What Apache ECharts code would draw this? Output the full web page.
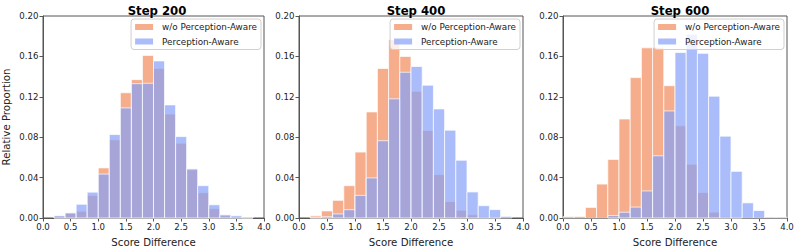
<!DOCTYPE html>
<html><head><meta charset="utf-8">
<script src="https://cdn.jsdelivr.net/npm/echarts@6/dist/echarts.min.js"></script>
<style>html,body{margin:0;padding:0;background:#fff}#c{width:797px;height:252px}</style>
</head><body><div id="c"></div>
<script>
// Histogram bin edges (width 0.2) and ticks
const binEdges = [0.0,0.2,0.4,0.6,0.8,1.0,1.2,1.4,1.6,1.8,2.0,2.2,2.4,2.6,2.8,3.0,3.2,3.4,3.6,3.8,4.0];
const xTicks = [0.0,0.5,1.0,1.5,2.0,2.5,3.0,3.5,4.0];
const yTicks = [0.00,0.04,0.08,0.12,0.16,0.20];
const titles = ['Step 200','Step 400','Step 600'];
const seriesNames = ['w/o Perception-Aware','Perception-Aware'];

// Relative proportion per bin
const step200_wo = [0,0.002,0.005,0.0067,0.0224,0.0496,0.0774,0.124,0.137,0.161,0.148,0.103,0.074,0.0477,0.025,0.0093,0.0022,0.001,0.0003,0];
const step200_pa = [0,0.0022,0.005,0.0136,0.0256,0.0435,0.0826,0.109,0.133,0.1334,0.1555,0.112,0.0806,0.0486,0.032,0.0131,0.0032,0.0022,0.001,0];
const step400_wo = [0,0.0022,0.007,0.0175,0.032,0.0653,0.105,0.148,0.1766,0.16,0.1254,0.0867,0.0429,0.0163,0.0077,0.0032,0.0013,0.0007,0,0];
const step400_pa = [0,0.0008,0.0013,0.004,0.0082,0.0224,0.0397,0.0765,0.118,0.1443,0.150,0.1315,0.108,0.087,0.0572,0.0258,0.0122,0.0083,0.0016,0];
const step600_wo = [0.0013,0.0014,0.0105,0.0336,0.058,0.098,0.139,0.1685,0.1688,0.131,0.0913,0.0532,0.0252,0.0058,0.0012,0.0006,0,0,0,0];
const step600_pa = [0,0,0,0,0.0024,0.0057,0.0108,0.0268,0.0616,0.106,0.1638,0.182,0.163,0.1206,0.081,0.0462,0.015,0.0074,0.0008,0.0008];

const panels = [[step200_wo, step200_pa],[step400_wo, step400_pa],[step600_wo, step600_pa]];
const colors = ['rgba(241,138,91,0.7)','rgba(134,161,248,0.7)'];
const gridLefts = [40, 299, 563];
const gridW = 224, gridTop = 16, gridH = 208;
const FONT = 'DejaVu Sans';

function binData(vals){
  const out = [];
  for (let i = 0; i < vals.length; i++) if (vals[i] > 0) out.push([binEdges[i], binEdges[i+1], vals[i]]);
  return out;
}
function makeRender(color){
  return function(params, api){
    const p0 = api.coord([api.value(0), api.value(2)]);
    const p1 = api.coord([api.value(1), 0]);
    return {type:'rect', shape:{x:p0[0], y:p0[1], width:p1[0]-p0[0], height:p1[1]-p0[1]},
      style:{fill:color, stroke:'rgba(255,255,255,0.7)', lineWidth:1}};
  };
}

const grid = [], xAxis = [], yAxis = [], series = [], title = [], legend = [];
panels.forEach((pair, k) => {
  grid.push({left: gridLefts[k], top: gridTop, width: gridW, height: gridH, show: true, borderColor: '#555', borderWidth: 1, backgroundColor: 'transparent'});
  xAxis.push({type:'value', gridIndex:k, min: xTicks[0], max: xTicks[xTicks.length-1], interval: 0.5,
    name:'Score Difference', nameLocation:'middle', nameGap: 19,
    nameTextStyle:{fontFamily:FONT, fontSize:10.2, color:'#222'},
    axisLine:{show:true, lineStyle:{color:'#555', width:1}},
    axisTick:{show:true, length:3.5, lineStyle:{color:'#555'}},
    axisLabel:{fontFamily:FONT, fontSize:8.6, color:'#222', margin:4, formatter:v=>v.toFixed(1)},
    splitLine:{show:false}});
  yAxis.push({type:'value', gridIndex:k, min: yTicks[0], max: yTicks[yTicks.length-1], interval: 0.04,
    name: k===0 ? 'Relative Proportion' : '', nameLocation:'middle', nameGap: 32,
    nameTextStyle:{fontFamily:FONT, fontSize:10.2, color:'#222'},
    axisLine:{show:true, lineStyle:{color:'#555', width:1}},
    axisTick:{show:true, length:3.5, lineStyle:{color:'#555'}},
    axisLabel:{fontFamily:FONT, fontSize:8.6, color:'#222', margin:4.5, formatter:v=>v.toFixed(2)},
    splitLine:{show:false}});
  title.push({text: titles[k], left: gridLefts[k] + gridW/2, top: 0, textAlign:'center',
    textStyle:{fontFamily:FONT, fontSize:11.7, fontWeight:'bold', color:'#000'}});
  legend.push({data: seriesNames.map((n,i)=>({name:n, itemStyle:{color:colors[i]}})),
    orient:'vertical', right: 797 - (gridLefts[k] + gridW) + 3, top: 19,
    icon:'rect', itemWidth:18, itemHeight:6, itemGap:3.5,
    padding:[2.5,4,2.5,4], borderColor:'#d0d0d0', borderWidth:1, borderRadius:3,
    backgroundColor:'rgba(255,255,255,0.8)', selectedMode:false,
    textStyle:{fontFamily:FONT, fontSize:8.8, color:'#222', lineHeight:11, padding:[0,0,0,4]}});
  pair.forEach((vals, i) => {
    series.push({type:'custom', name: seriesNames[i], xAxisIndex:k, yAxisIndex:k,
      renderItem: makeRender(colors[i]), itemStyle:{color:colors[i]},
      encode:{x:[0,1], y:2}, data: binData(vals), z: 2+i, silent:true});
  });
});

const chart = echarts.init(document.getElementById('c'), null, {renderer:'svg'});
chart.setOption({animation:false, backgroundColor:'#fff', title, legend, grid, xAxis, yAxis, series});
</script></body></html>
